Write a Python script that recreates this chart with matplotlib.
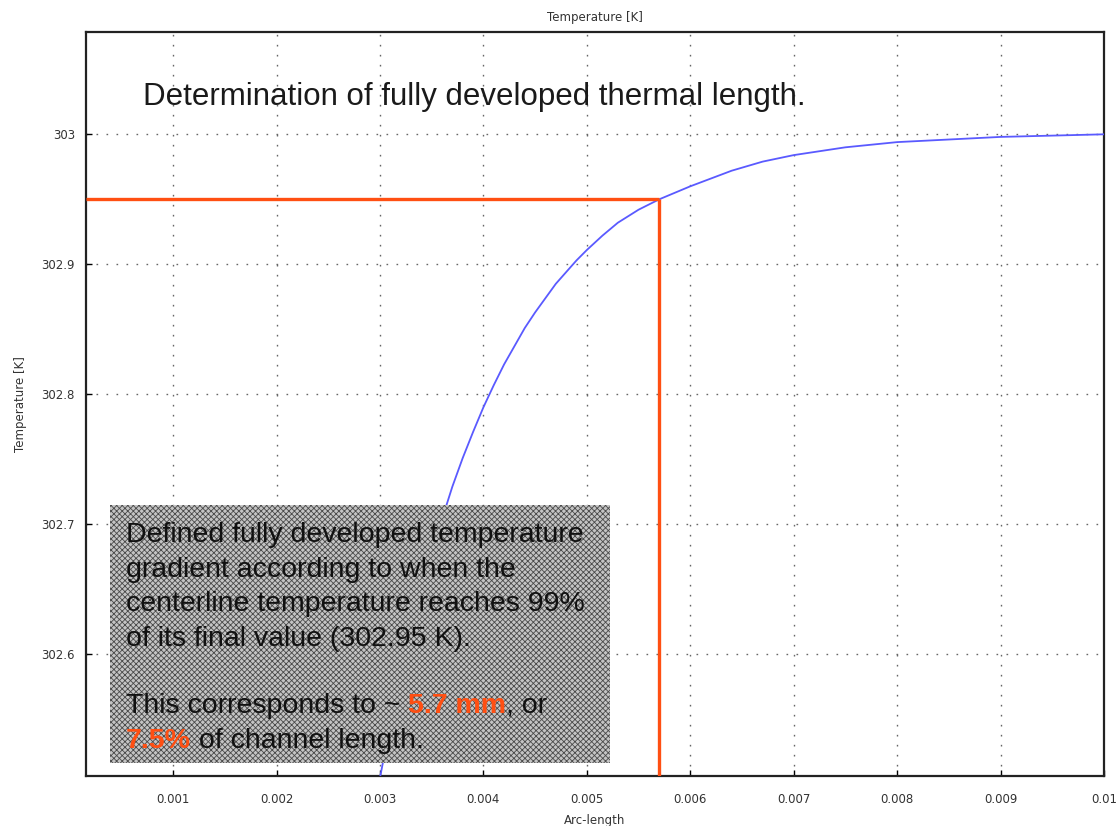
import matplotlib.pyplot as plt
from matplotlib.patches import Rectangle

# Centerline temperature along the channel
arc_length = [0.0029, 0.0030, 0.0031, 0.0032, 0.0033, 0.0034, 0.0035, 0.0036,
              0.0037, 0.0038, 0.0039, 0.0040, 0.0041, 0.0042, 0.0043, 0.0044,
              0.0045, 0.0046, 0.0047, 0.0048, 0.0049, 0.0050, 0.00515, 0.0053,
              0.0055, 0.0057, 0.0060, 0.0062, 0.0064, 0.0067, 0.0070, 0.0075,
              0.0080, 0.0090, 0.0100]
temperature = [302.460, 302.505, 302.546, 302.583, 302.617, 302.648, 302.677, 302.704,
               302.729, 302.751, 302.771, 302.790, 302.807, 302.823, 302.837, 302.851,
               302.863, 302.874, 302.885, 302.894, 302.903, 302.911, 302.922, 302.932,
               302.942, 302.950, 302.960, 302.966, 302.972, 302.979, 302.984, 302.990,
               302.994, 302.998, 303.000]

# Fully developed point: 99% of final value
dev_length = 0.0057
dev_temp = 302.95

x_ticks = [0.001, 0.002, 0.003, 0.004, 0.005, 0.006, 0.007, 0.008, 0.009, 0.01]
x_labels = ['0.001', '0.002', '0.003', '0.004', '0.005', '0.006', '0.007', '0.008', '0.009', '0.01']
y_ticks = [302.6, 302.7, 302.8, 302.9, 303.0]
y_labels = ['302.6', '302.7', '302.8', '302.9', '303']

xlim = (0.000158, 0.01)
ylim = (302.5064, 303.0787)

# annotation box extent (data units)
box_x = (0.00039, 0.005225)
box_y = (302.5164, 302.7148)

red = '#ff4f12'

plt.rcParams['hatch.linewidth'] = 0.6

fig = plt.figure(figsize=(11.2, 8.26), dpi=100)
ax = fig.add_axes([86 / 1120, 50 / 826, 1018 / 1120, 744 / 826])

ax.plot(arc_length, temperature, color='#5a5aff', lw=1.3, zorder=3)

# red guide lines
ax.plot([xlim[0], dev_length], [dev_temp, dev_temp], color=red, lw=2.4, zorder=4,
        solid_capstyle='butt')
ax.plot([dev_length, dev_length], [dev_temp, ylim[0]], color=red, lw=2.4, zorder=4,
        solid_capstyle='butt')

ax.set_xlim(*xlim)
ax.set_ylim(*ylim)
ax.set_xticks(x_ticks)
ax.set_xticklabels(x_labels)
ax.set_yticks(y_ticks)
ax.set_yticklabels(y_labels)
ax.tick_params(direction='in', length=4, width=1, labelsize=8.5, labelcolor='#333333')
ax.tick_params(axis='x', pad=12)
ax.tick_params(axis='y', pad=8)
ax.grid(True, color='#666666', linestyle=(0, (1.2, 6)), lw=1.0)
for s in ax.spines.values():
    s.set_linewidth(1.6)
    s.set_color('#222222')

ax.set_xlabel('Arc-length', fontsize=8.5, color='#333333', labelpad=6)
ax.set_ylabel('Temperature [K]', fontsize=8.5, color='#333333', labelpad=10)
ax.set_title('Temperature [K]', fontsize=8.5, color='#333333', pad=8)

ax.text(0.056, 0.902, 'Determination of fully developed thermal length.',
        transform=ax.transAxes, fontsize=22.5, family='Liberation Sans', color='#1a1a1a',
        va='baseline', ha='left')

# shaded note box
box = Rectangle((box_x[0], box_y[0]), box_x[1] - box_x[0], box_y[1] - box_y[0],
                facecolor='#c4c4c4', edgecolor='#4a4a4a', hatch='xxxxxx', lw=0, zorder=5)
ax.add_patch(box)

tx = 0.0393
fs = 20.5
font = dict(transform=ax.transAxes, fontsize=fs, family='Liberation Sans',
            va='baseline', ha='left', zorder=6)
lines = ['Defined fully developed temperature',
         'gradient according to when the',
         'centerline temperature reaches 99%',
         'of its final value (302.95 K).']
baselines = [0.3149, 0.2681, 0.2218, 0.1747]
for s, yb in zip(lines, baselines):
    ax.text(tx, yb, s, color='#111111', **font)

# mixed-colour lines
t1 = ax.text(tx, 0.0851, 'This corresponds to ~ ', color='#111111', **font)
t2 = ax.annotate('5.7 mm', xy=(1, 0), xycoords=t1, fontsize=fs, family='Liberation Sans',
                 fontweight='bold', color=red, va='bottom', ha='left', zorder=6)
ax.annotate(', or', xy=(1, 0), xycoords=t2, fontsize=fs, family='Liberation Sans',
            color='#111111', va='bottom', ha='left', zorder=6)
t4 = ax.text(tx, 0.0376, '7.5%', color=red, fontweight='bold', **font)
ax.annotate(' of channel length.', xy=(1, 0), xycoords=t4, fontsize=fs,
            family='Liberation Sans', color='#111111', va='bottom', ha='left', zorder=6)

fig.savefig('out.png', dpi=100)
